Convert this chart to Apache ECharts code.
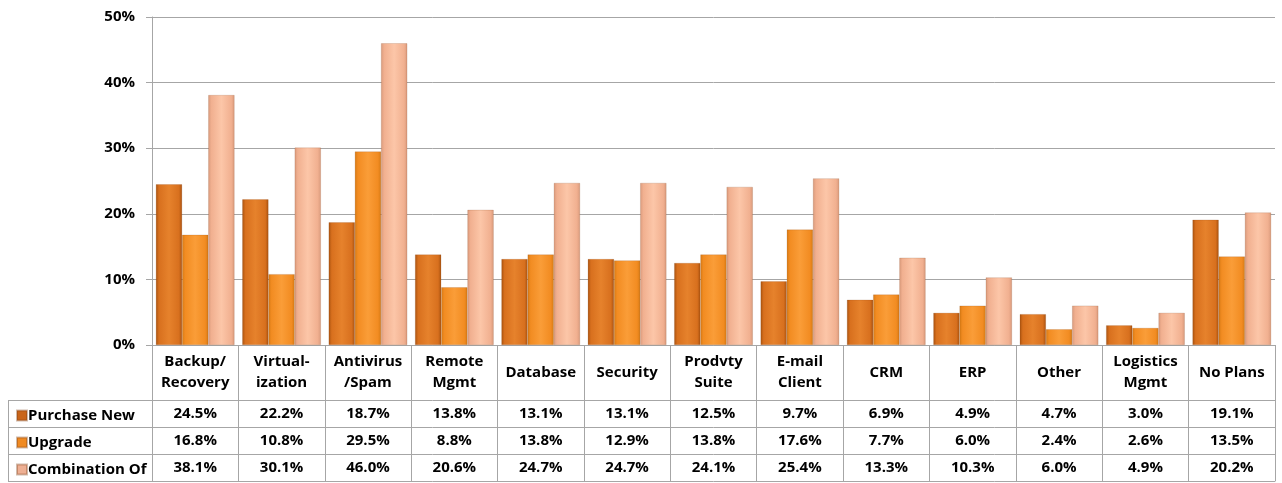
<!DOCTYPE html>
<html lang="en">
<head>
<meta charset="UTF-8">
<title>Purchase plans</title>
<script src="https://cdn.jsdelivr.net/npm/echarts@6/dist/echarts.min.js"></script>
<style>
  html, body { margin: 0; padding: 0; background: #fff; }
  #main { width: 1282px; height: 483px; }
</style>
</head>
<body>
<div id="main"></div>
<script>
var categories = ['Backup/\nRecovery', 'Virtual-\nization', 'Antivirus\n/Spam', 'Remote\nMgmt', 'Database',
  'Security', 'Prodvty\nSuite', 'E-mail\nClient', 'CRM', 'ERP', 'Other', 'Logistics\nMgmt', 'No Plans'];
var seriesNames = ['Purchase New', 'Upgrade', 'Combination Of'];
var purchaseNew = [24.5, 22.2, 18.7, 13.8, 13.1, 13.1, 12.5, 9.7, 6.9, 4.9, 4.7, 3.0, 19.1];
var upgrade = [16.8, 10.8, 29.5, 8.8, 13.8, 12.9, 13.8, 17.6, 7.7, 6.0, 2.4, 2.6, 13.5];
var combination = [38.1, 30.1, 46.0, 20.6, 24.7, 24.7, 24.1, 25.4, 13.3, 10.3, 6.0, 4.9, 20.2];
var yTicks = [0, 10, 20, 30, 40, 50];

var FONT = 'Open Sans';
var LINE = '#a6a6a6';

function bevel(edge, mid, light) {
  return new echarts.graphic.LinearGradient(0, 0, 1, 0, [
    { offset: 0, color: edge },
    { offset: 0.12, color: mid },
    { offset: 0.5, color: light },
    { offset: 0.88, color: mid },
    { offset: 1, color: edge }
  ]);
}
var colors = [
  bevel('#a9520f', '#d8701e', '#e6822c'),
  bevel('#d77a14', '#f28c22', '#fa9d38'),
  bevel('#d99a7c', '#f1b090', '#fcc6a8')
];
var legendColors = ['#c9651a', '#f08a22', '#eeb094'];

var chart = echarts.init(document.getElementById('main'));

var textBase = { fontFamily: FONT, fontWeight: 'bold', fontSize: 15, color: '#000' };

function tableAxis(offset, values, showLabel) {
  return {
    type: 'category',
    data: categories,
    position: 'bottom',
    gridIndex: 0,
    offset: offset,
    axisLine: { show: true, lineStyle: { color: LINE, width: 1 } },
    axisTick: { show: false },
    axisLabel: Object.assign({
      show: showLabel,
      interval: 0,
      margin: 13.5,
      verticalAlign: 'middle',
      formatter: function (v, i) { return values ? values[i].toFixed(1) + '%' : ''; }
    }, textBase)
  };
}

var seriesData = [purchaseNew, upgrade, combination];
var rowTops = [403, 430, 457];

var option = {
  animation: false,
  grid: { left: 152, right: 7, top: 17, bottom: 138, containLabel: false },
  legend: seriesNames.map(function (n, i) {
    return {
      orient: 'horizontal',
      left: 11,
      top: rowTops[i],
      itemWidth: 10,
      itemHeight: 10,
      icon: 'rect',
      selectedMode: false,
      textStyle: Object.assign({ padding: [0, 0, 0, -4] }, textBase),
      data: [{ name: n, itemStyle: { color: legendColors[i] } }]
    };
  }),
  xAxis: [
    {
      type: 'category',
      data: categories,
      position: 'bottom',
      axisLine: { show: true, lineStyle: { color: LINE, width: 1 } },
      axisTick: { show: true, length: 136, interval: 0, lineStyle: { color: LINE } },
      axisLabel: Object.assign({
        interval: 0,
        margin: 27.5,
        verticalAlign: 'middle',
        lineHeight: 21
      }, textBase)
    },
    tableAxis(55, purchaseNew, true),
    tableAxis(82, upgrade, true),
    tableAxis(109, combination, true),
    tableAxis(136, null, false)
  ],
  yAxis: {
    type: 'value',
    min: yTicks[0],
    max: yTicks[yTicks.length - 1],
    interval: 10,
    axisLine: { show: true, lineStyle: { color: LINE } },
    axisTick: { show: true, length: 6, lineStyle: { color: LINE } },
    axisLabel: Object.assign({ margin: 17, formatter: '{value}%' }, textBase),
    splitLine: { show: true, lineStyle: { color: LINE, width: 1 } }
  },
  series: seriesNames.map(function (n, i) {
    return {
      name: n,
      type: 'bar',
      data: seriesData[i],
      barGap: '0%',
      barCategoryGap: '9%',
      itemStyle: { color: colors[i], borderColor: 'rgba(120,60,20,0.35)', borderWidth: 0.5 },
      emphasis: { disabled: true }
    };
  }),
  graphic: [
    { type: 'line', shape: { x1: 8, y1: 400.5, x2: 152, y2: 400.5 }, style: { stroke: LINE, lineWidth: 1 } },
    { type: 'line', shape: { x1: 8, y1: 427.5, x2: 152, y2: 427.5 }, style: { stroke: LINE, lineWidth: 1 } },
    { type: 'line', shape: { x1: 8, y1: 454.5, x2: 152, y2: 454.5 }, style: { stroke: LINE, lineWidth: 1 } },
    { type: 'line', shape: { x1: 8, y1: 481.5, x2: 152, y2: 481.5 }, style: { stroke: LINE, lineWidth: 1 } },
    { type: 'line', shape: { x1: 8.5, y1: 400, x2: 8.5, y2: 482 }, style: { stroke: LINE, lineWidth: 1 } }
  ]
};

chart.setOption(option);
</script>
</body>
</html>
